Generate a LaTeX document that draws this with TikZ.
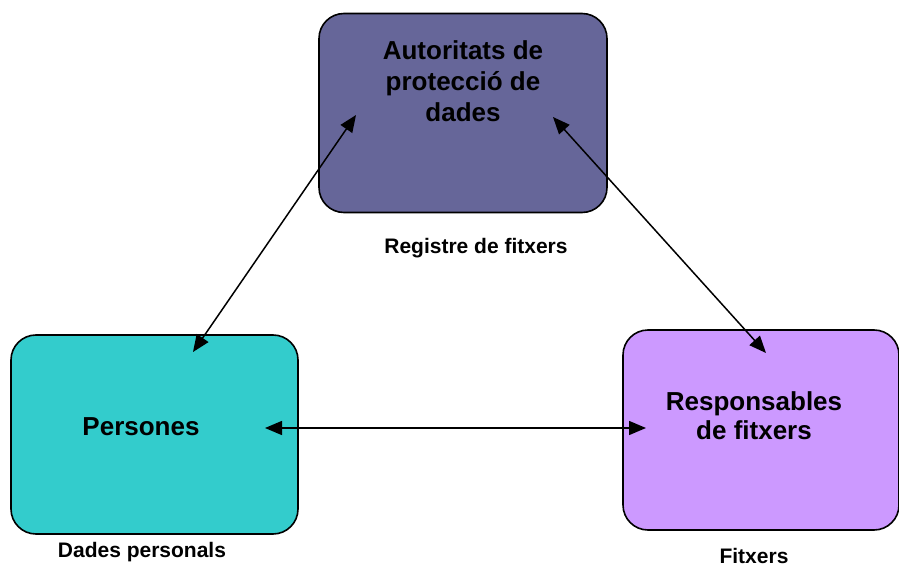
\documentclass[tikz,border=0pt]{standalone}
\usepackage{fontspec}
\setmainfont{Liberation Sans}
\usetikzlibrary{arrows.meta}
\definecolor{authc}{HTML}{666699}
\definecolor{persc}{HTML}{33CCCC}
\definecolor{respc}{HTML}{CC99FF}
\begin{document}
\begin{tikzpicture}[x=1pt,y=-1pt,
  box/.style={draw=black,line width=1.6pt,rounded corners=25pt,inner sep=0pt,outer sep=0pt},
  bigtxt/.style={font=\fontsize{26}{31}\selectfont\bfseries,align=center,inner sep=0pt},
  smalltxt/.style={font=\fontsize{21}{24}\selectfont\bfseries,inner sep=0pt},
  link/.style={line width=1.5pt,{Triangle[length=17pt,width=14pt]}-{Triangle[length=17pt,width=14pt]}}]
\useasboundingbox (0,0) rectangle (899,569);
\fill[white] (0,0) rectangle (899,569);
\node[box,fill=authc,minimum width=288pt,minimum height=199pt] (auth) at (463,113) {};
\node[box,fill=persc,minimum width=287pt,minimum height=199pt] (pers) at (154.5,434.5) {};
\node[box,fill=respc,minimum width=276pt,minimum height=200pt] (resp) at (761,430) {};
\node[bigtxt] (authtxt) at (463,81) {Autoritats de\\protecció de\\dades};
\node[bigtxt] (perstxt) at (141,427) {Persones};
\node[bigtxt,font=\fontsize{26}{29}\selectfont\bfseries] (resptxt) at (754,416) {Responsables\\de fitxers};
\node[smalltxt] (reg) at (476,248) {Registre de fitxers};
\node[smalltxt] (dades) at (142,552) {Dades personals};
\node[smalltxt] (fitx) at (754,556) {Fitxers};
\coordinate (a1) at (356,115);
\coordinate (p1) at (193,352);
\coordinate (a2) at (553,117);
\coordinate (r1) at (766,353);
\coordinate (p2) at (265,428);
\coordinate (r2) at (646,428);
\draw[link] (p1) -- (a1);
\draw[link] (a2) -- (r1);
\draw[link] (p2) -- (r2);
\end{tikzpicture}
\end{document}
